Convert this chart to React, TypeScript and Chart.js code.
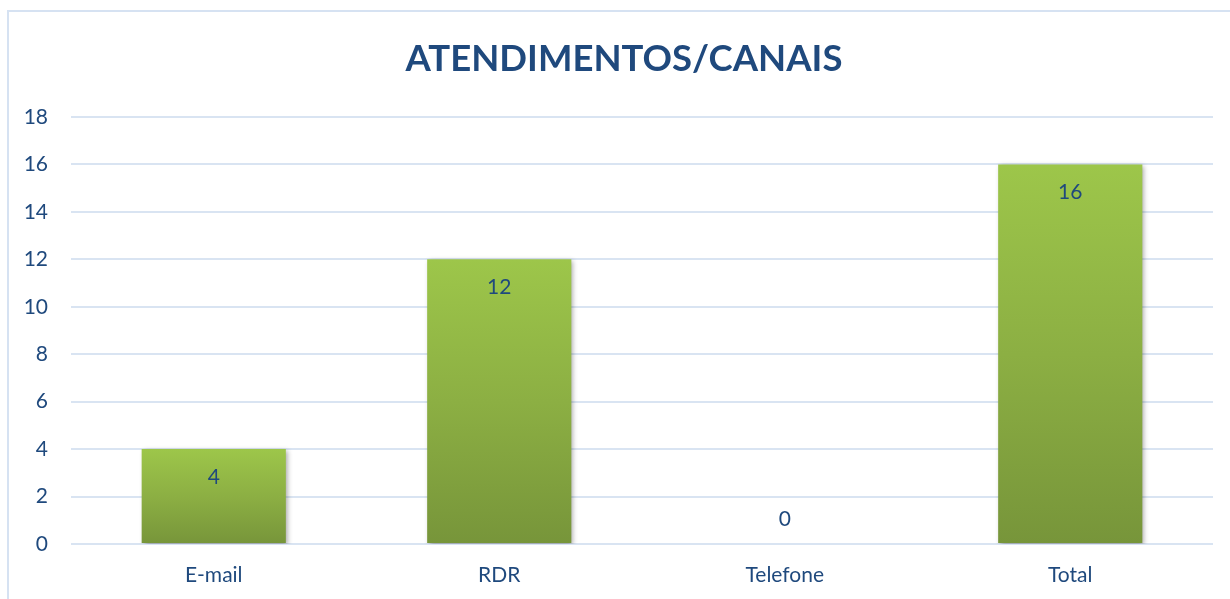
import React, { useEffect, useRef } from "react";
import { Chart, registerables } from "chart.js";

Chart.register(...registerables);

const TITLE = "ATENDIMENTOS/CANAIS";
const categories = ["E-mail", "RDR", "Telefone", "Total"];
const values = [4, 12, 0, 16];
const yMin = 0;
const yMax = 18;
const yStep = 2;

const FONT = "Lato, 'Open Sans', sans-serif";
const TEXT = "#1F497D";

export default function App() {
  const ref = useRef<HTMLCanvasElement | null>(null);

  useEffect(() => {
    const canvas = ref.current;
    if (!canvas) return;

    const framePlugin = {
      id: "frame",
      beforeDraw(chart: any) {
        const ctx = chart.ctx;
        ctx.save();
        ctx.fillStyle = "#ffffff";
        ctx.fillRect(0, 0, chart.width, chart.height);
        ctx.strokeStyle = "#D6E2F2";
        ctx.lineWidth = 2;
        ctx.beginPath();
        ctx.moveTo(8, chart.height + 5);
        ctx.lineTo(8, 11);
        ctx.lineTo(chart.width + 5, 11);
        ctx.stroke();
        ctx.fillStyle = TEXT;
        ctx.font = `bold 36.5px ${FONT}`;
        ctx.textAlign = "center";
        ctx.textBaseline = "middle";
        ctx.fillText(TITLE, 624, 59);
        ctx.restore();
      },
    };

    const shadowPlugin = {
      id: "barShadow",
      beforeDatasetsDraw(chart: any) {
        const ctx = chart.ctx;
        ctx.save();
        ctx.shadowColor = "rgba(0,0,0,0.35)";
        ctx.shadowBlur = 5;
        ctx.shadowOffsetX = 2;
        ctx.shadowOffsetY = 2;
      },
      afterDatasetsDraw(chart: any) {
        chart.ctx.restore();
      },
    };

    const labelPlugin = {
      id: "barLabels",
      afterDraw(chart: any) {
        const ctx = chart.ctx;
        const meta = chart.getDatasetMeta(0);
        ctx.save();
        ctx.fillStyle = TEXT;
        ctx.font = `21px ${FONT}`;
        ctx.textAlign = "center";
        ctx.textBaseline = "middle";
        meta.data.forEach((el: any, i: number) => {
          const v = values[i];
          const y = v > 0 ? el.y + 28 : el.y - 25;
          ctx.fillText(String(v), el.x, y);
        });
        ctx.restore();
      },
    };

    const chart = new Chart(canvas, {
      type: "bar",
      data: {
        labels: categories,
        datasets: [
          {
            data: values,
            backgroundColor: (c: any) => {
              const ch = c.chart;
              const ys = ch.scales && ch.scales.y;
              if (!ys || c.parsed === undefined) return "#8DB146";
              const top = ys.getPixelForValue(c.parsed.y);
              const bot = ys.getPixelForValue(0);
              if (!isFinite(top) || !isFinite(bot) || top === bot) return "#8DB146";
              const g = ch.ctx.createLinearGradient(0, top, 0, bot);
              g.addColorStop(0, "#9DC64A");
              g.addColorStop(0.5, "#8CAF43");
              g.addColorStop(1, "#77953A");
              return g;
            },
            borderWidth: 0,
            categoryPercentage: 1,
            barPercentage: 0.505,
          },
        ],
      },
      options: {
        responsive: false,
        animation: false,
        devicePixelRatio: 1,
        layout: { padding: { top: 117, right: 17, left: 0, bottom: 0 } },
        plugins: {
          legend: { display: false },
          title: { display: false },
          tooltip: { enabled: false },
        },
        scales: {
          x: {
            grid: { display: false, drawTicks: false },
            border: { display: false },
            ticks: {
              color: TEXT,
              font: { family: FONT, size: 21 },
              padding: 19,
            },
            afterFit: (s: any) => {
              s.height = 55;
            },
          },
          y: {
            min: yMin,
            max: yMax,
            grid: { color: "#D9E4F2", lineWidth: 2, drawTicks: false },
            border: { display: false },
            ticks: {
              stepSize: yStep,
              color: TEXT,
              font: { family: FONT, size: 21 },
              padding: 23,
            },
            afterFit: (s: any) => {
              s.width = 71;
            },
          },
        },
      },
      plugins: [framePlugin, shadowPlugin, labelPlugin],
    });

    return () => chart.destroy();
  }, []);

  return (
    <div style={{ position: "fixed", left: 0, top: 0, width: 1230, height: 599, background: "#fff" }}>
      <canvas ref={ref} width={1230} height={599} />
    </div>
  );
}
